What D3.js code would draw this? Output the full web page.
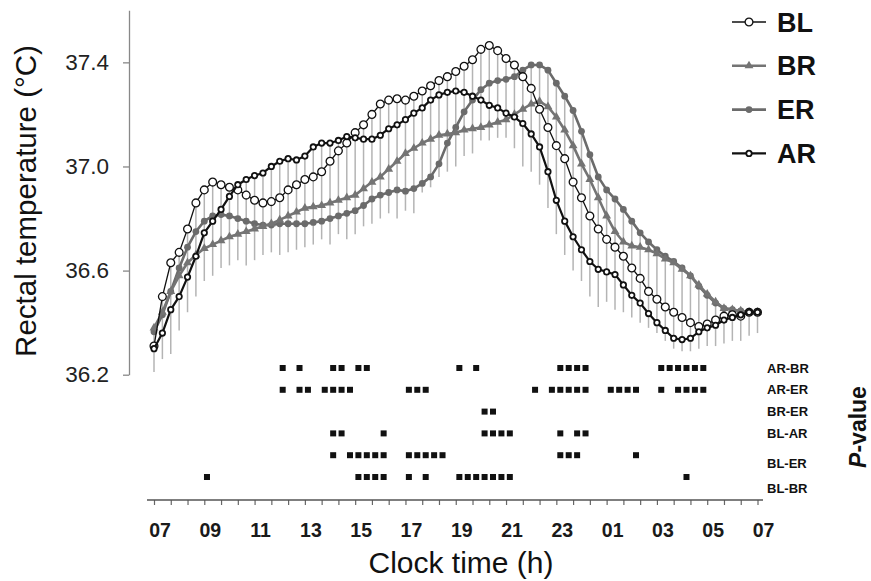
<!DOCTYPE html>
<html>
<head>
<meta charset="utf-8">
<script src="https://cdn.jsdelivr.net/npm/d3@7"></script>
<style>
	body { margin: 0; background: #fff; }
	svg text { font-family: "Liberation Sans", Arial, sans-serif; }
</style>
</head>
<body>
<div class="diagram"></div>
<script>
var width = 871, height = 581;

// DATA - one reading every 20 min, 07:00 to 07:00 next day
var times = ["07:00","07:20","07:40","08:00","08:20","08:40","09:00","09:20","09:40","10:00","10:20","10:40",
	"11:00","11:20","11:40","12:00","12:20","12:40","13:00","13:20","13:40","14:00","14:20","14:40",
	"15:00","15:20","15:40","16:00","16:20","16:40","17:00","17:20","17:40","18:00","18:20","18:40",
	"19:00","19:20","19:40","20:00","20:20","20:40","21:00","21:20","21:40","22:00","22:20","22:40",
	"23:00","23:20","23:40","00:00","00:20","00:40","01:00","01:20","01:40","02:00","02:20","02:40",
	"03:00","03:20","03:40","04:00","04:20","04:40","05:00","05:20","05:40","06:00","06:20","06:40","07:00"];

var BL = [36.31,36.50,36.63,36.67,36.76,36.86,36.91,36.94,36.93,36.92,36.91,36.89,
	36.87,36.86,36.865,36.88,36.91,36.93,36.95,36.96,36.98,37.02,37.06,37.09,
	37.13,37.16,37.20,37.24,37.255,37.26,37.255,37.27,37.29,37.31,37.33,37.345,
	37.365,37.385,37.41,37.45,37.465,37.445,37.415,37.39,37.345,37.30,37.22,37.15,
	37.08,37.03,36.94,36.88,36.81,36.76,36.72,36.69,36.655,36.61,36.57,36.52,
	36.49,36.46,36.44,36.42,36.40,36.385,36.395,36.41,36.425,36.43,36.425,36.44,36.44];

var BR = [36.38,36.44,36.52,36.58,36.63,36.66,36.685,36.70,36.715,36.73,36.74,36.75,
	36.76,36.77,36.78,36.795,36.81,36.825,36.84,36.845,36.85,36.86,36.87,36.88,
	36.89,36.915,36.94,36.96,36.99,37.02,37.05,37.07,37.09,37.105,37.12,37.125,
	37.13,37.14,37.145,37.15,37.16,37.17,37.18,37.20,37.22,37.24,37.25,37.23,
	37.19,37.14,37.08,37.01,36.95,36.88,36.81,36.75,36.71,36.695,36.69,36.68,
	36.665,36.645,36.63,36.605,36.58,36.545,36.51,36.48,36.455,36.45,36.445,36.44,36.44];

var ER = [36.365,36.43,36.52,36.61,36.69,36.75,36.79,36.81,36.815,36.81,36.80,36.79,
	36.78,36.775,36.775,36.78,36.78,36.78,36.78,36.785,36.79,36.80,36.81,36.82,
	36.83,36.85,36.875,36.89,36.90,36.91,36.905,36.915,36.935,36.96,37.01,37.09,
	37.15,37.21,37.255,37.295,37.32,37.33,37.335,37.345,37.37,37.39,37.39,37.37,
	37.32,37.27,37.215,37.135,37.045,36.96,36.91,36.875,36.835,36.79,36.745,36.71,
	36.68,36.655,36.635,36.61,36.58,36.54,36.505,36.475,36.455,36.45,36.445,36.44,36.44];

var AR = [36.30,36.36,36.45,36.50,36.575,36.655,36.745,36.79,36.835,36.885,36.93,36.95,
	36.965,36.975,37.00,37.02,37.03,37.025,37.04,37.075,37.09,37.09,37.10,37.115,
	37.11,37.105,37.105,37.12,37.145,37.16,37.18,37.205,37.225,37.255,37.275,37.285,
	37.29,37.285,37.27,37.255,37.235,37.225,37.205,37.19,37.165,37.125,37.075,36.98,
	36.87,36.79,36.73,36.68,36.635,36.605,36.595,36.585,36.545,36.505,36.475,36.435,
	36.40,36.37,36.34,36.335,36.34,36.365,36.38,36.39,36.41,36.42,36.43,36.44,36.44];

// lower end of the error bars
var errLow = [36.21,36.26,36.28,36.37,36.44,36.50,36.56,36.58,36.61,36.62,36.64,36.62,
	36.64,36.66,36.67,36.66,36.67,36.68,36.69,36.70,36.72,36.70,36.74,36.72,
	36.74,36.77,36.78,36.80,36.82,36.80,36.83,36.82,36.90,36.92,36.96,36.98,
	37.00,37.04,37.05,37.10,37.10,37.11,37.11,37.07,37.00,36.98,36.93,36.84,
	36.74,36.66,36.60,36.56,36.50,36.46,36.48,36.45,36.44,36.42,36.40,36.38,
	36.36,36.33,36.30,36.29,36.29,36.30,36.31,36.31,36.32,36.33,36.33,36.35,36.36];

var yTicks = [36.2, 36.6, 37.0, 37.4];
var xTickLabels = ["07","09","11","13","15","17","19","21","23","01","03","05","07"];

// P-value rows: times with a significant difference
var pRows = ["AR-BR","AR-ER","BR-ER","BL-AR","BL-ER","BL-BR"];
var pARBR = ["12:00","12:40","14:00","14:20","15:00","15:20","19:00","19:40","23:00","23:20","23:40","00:00",
	"03:00","03:20","03:40","04:00","04:20","04:40"];
var pARER = ["12:00","12:40","13:00","13:40","14:00","14:20","14:40","17:00","17:20","17:40","22:00","22:40",
	"23:00","23:20","23:40","00:00","01:00","01:20","01:40","02:00","03:00","03:40","04:00","04:20","04:40"];
var pBRER = ["20:00","20:20"];
var pBLAR = ["14:00","14:20","16:00","20:00","20:20","20:40","21:00","23:00","23:40","00:00"];
var pBLER = ["14:00","14:40","15:00","15:20","15:40","16:00","17:00","17:20","17:40","18:00","18:20",
	"23:00","23:20","23:40","02:00"];
var pBLBR = ["09:00","15:00","15:20","15:40","16:00","17:00","17:40","19:00","19:20","19:40","20:00",
	"20:20","20:40","21:00","04:00"];
var pTimes = [pARBR, pARER, pBRER, pBLAR, pBLER, pBLBR];


// hours elapsed since 07:00
function elapsed(t, last) {
	var p = t.split(":");
	var h = +p[0] + p[1] / 60 - 7;
	if (h < 0 || (last && h === 0)) h += 24;
	return h;
}
var hours = times.map(function(t, i) { return elapsed(t, i > 0); });

var series = [
	{ name: "ER", values: ER, color: "#6b6b6b", lw: 2.6, marker: "dot" },
	{ name: "BR", values: BR, color: "#747474", lw: 2.6, marker: "triangle" },
	{ name: "BL", values: BL, color: "#111", lw: 1.3, marker: "open" },
	{ name: "AR", values: AR, color: "#111", lw: 2.2, marker: "small" }
];
var legendOrder = ["BL", "BR", "ER", "AR"];


var svg = d3.select('.diagram')
	.append('svg')
	.attr('width', width)
	.attr('height', height);

var x = d3.scaleLinear().domain([0, 24]).range([154, 757.5]);
var xP = d3.scaleLinear().domain([0, 24]).range([156.5, 762.2]);
var y = d3.scaleLinear().domain([36.2, 37.6]).range([374.7, 10.3]);
var rowY = d3.scaleLinear().domain([0, pRows.length - 1]).range([368, 477]);


// ERROR BARS
svg.append('g')
	.selectAll('line')
	.data(hours)
	.enter()
	.append('line')
	.attr('x1', function(h) { return x(h); })
	.attr('x2', function(h) { return x(h); })
	.attr('y1', function(h, i) { return y(d3.max(series, function(s) { return s.values[i]; })); })
	.attr('y2', function(h, i) { return y(errLow[i]); })
	.attr('stroke', '#b4b4b4')
	.attr('stroke-width', 1.5);


// LINES AND MARKERS
function drawMarker(sel, s) {
	if (s.marker === "triangle") {
		sel.append('path')
			.attr('d', d3.symbol(d3.symbolTriangle, 34)())
			.attr('fill', s.color);
	} else if (s.marker === "dot") {
		sel.append('circle').attr('r', 3.4).attr('fill', s.color);
	} else if (s.marker === "open") {
		sel.append('circle').attr('r', 3.9).attr('fill', '#fff')
			.attr('stroke', s.color).attr('stroke-width', 1.3);
	} else {
		sel.append('circle').attr('r', 2.7).attr('fill', '#fff')
			.attr('stroke', s.color).attr('stroke-width', 1.8);
	}
}

var line = d3.line()
	.x(function(d, i) { return x(hours[i]); })
	.y(function(d) { return y(d); });

series.forEach(function(s) {
	var g = svg.append('g').attr('class', 'series');
	g.append('path')
		.attr('d', line(s.values))
		.attr('fill', 'none')
		.attr('stroke', s.color)
		.attr('stroke-width', s.lw)
		.attr('stroke-linejoin', 'round');
	g.selectAll('g')
		.data(s.values)
		.enter()
		.append('g')
		.attr('transform', function(d, i) { return "translate(" + x(hours[i]) + "," + y(d) + ")"; })
		.each(function() { drawMarker(d3.select(this), s); });
});


// Y AXIS
var yAxis = svg.append('g')
	.attr('transform', 'translate(129,0)')
	.call(d3.axisLeft(y).tickValues(yTicks).tickFormat(d3.format('.1f')).tickSize(6).tickSizeOuter(0).tickPadding(14));
yAxis.select('.domain').attr('stroke', '#888').attr('stroke-width', 1.3);
yAxis.selectAll('.tick line').attr('stroke', '#888').attr('stroke-width', 1.3);
yAxis.selectAll('.tick text')
	.attr('fill', '#222')
	.style('font-size', '22.5px');

svg.append('text')
	.attr('transform', 'translate(36,201) rotate(-90)')
	.attr('text-anchor', 'middle')
	.attr('fill', '#111')
	.style('font-size', '29.5px')
	.text('Rectal temperature (\u00B0C)');


// X AXIS
var xAxis = svg.append('g')
	.attr('transform', 'translate(0,500)')
	.call(d3.axisBottom(x)
		.tickValues(d3.range(37).map(function(k) { return k * 2 / 3; }))
		.tickSize(5).tickSizeOuter(0).tickPadding(18)
		.tickFormat(function(d, k) { return k % 3 === 0 ? xTickLabels[k / 3] : ""; }));
xAxis.select('.domain').remove();
xAxis.append('line')
	.attr('x1', 147).attr('x2', 763)
	.attr('stroke', '#555').attr('stroke-width', 1.3);
xAxis.selectAll('.tick line').attr('stroke', '#666').attr('stroke-width', 1.2);
xAxis.selectAll('.tick text')
	.attr('dx', 5.5)
	.attr('fill', '#1a1a1a')
	.style('font-family', '"Liberation Sans Narrow", "Arial Narrow", sans-serif')
	.style('font-weight', 'bold')
	.style('font-size', '19.5px');

svg.append('text')
	.attr('x', 461)
	.attr('y', 573)
	.attr('text-anchor', 'middle')
	.attr('fill', '#111')
	.style('font-size', '30px')
	.text('Clock time (h)');


// P-VALUE ROWS
var labelShift = [0, 0, 0, 0, 8, 11];
pRows.forEach(function(name, r) {
	svg.append('g')
		.selectAll('rect')
		.data(pTimes[r])
		.enter()
		.append('rect')
		.attr('x', function(t) { return xP(elapsed(t)) - 3; })
		.attr('y', rowY(r) - 3)
		.attr('width', 6)
		.attr('height', 6)
		.attr('fill', '#111');
	svg.append('text')
		.attr('x', 767)
		.attr('y', rowY(r) + labelShift[r] + 4.6)
		.attr('fill', '#111')
		.style('font-size', '13px')
		.style('font-weight', 'bold')
		.text(name);
});

var pLabel = svg.append('text')
	.attr('transform', 'translate(866,427) rotate(-90)')
	.attr('text-anchor', 'middle')
	.attr('fill', '#111')
	.style('font-size', '23px')
	.style('font-weight', 'bold');
pLabel.append('tspan').style('font-style', 'italic').text('P');
pLabel.append('tspan').text('-value');


// LEGEND
var legend = svg.append('g')
	.selectAll('g')
	.data(legendOrder)
	.enter()
	.append('g')
	.attr('transform', function(d, i) { return "translate(0," + (31.5 + i * 43.8) + ")"; });

legend.each(function(name) {
	var s = series.filter(function(e) { return e.name === name; })[0];
	var g = d3.select(this);
	g.append('line')
		.attr('x1', 732).attr('x2', 766)
		.attr('y1', -9.5).attr('y2', -9.5)
		.attr('stroke', s.color)
		.attr('stroke-width', s.lw);
	drawMarker(g.append('g').attr('transform', 'translate(749,-9.5)'), s);
	g.append('text')
		.attr('x', 777)
		.attr('fill', '#111')
		.style('font-size', '27px')
		.style('font-weight', 'bold')
		.text(name);
});
</script>
</body>
</html>
